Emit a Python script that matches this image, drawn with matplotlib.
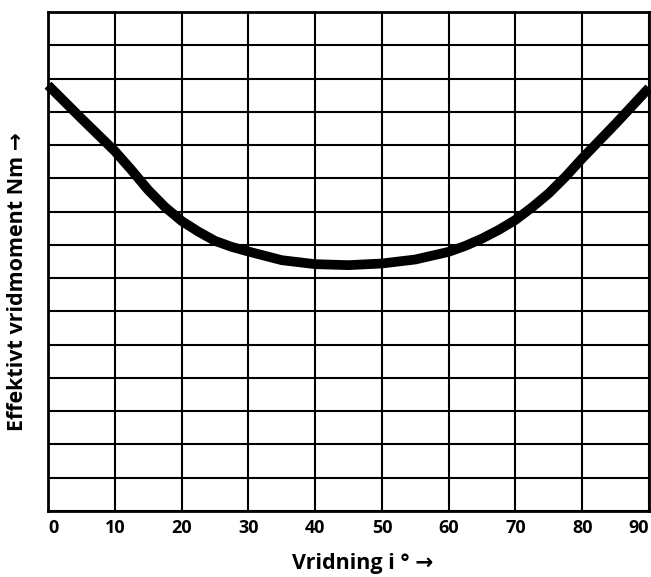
import matplotlib
matplotlib.use("Agg")
import matplotlib.pyplot as plt
import numpy as np

# Data
angle_deg = [0, 5, 10, 12.5, 15, 17.5, 20, 22.5, 25, 27.5, 30, 35, 40, 45, 50, 55, 60,
             62.5, 65, 67.5, 70, 72.5, 75, 77.5, 80, 85, 90]
torque = [12.8, 11.8, 10.82, 10.25, 9.65, 9.14, 8.72, 8.40, 8.12, 7.94, 7.8, 7.54, 7.42, 7.39,
          7.44, 7.56, 7.79, 7.97, 8.19, 8.45, 8.75, 9.13, 9.55, 10.05, 10.6, 11.64, 12.72]
x_ticks = [0, 10, 20, 30, 40, 50, 60, 70, 80, 90]
x_label = "Vridning i ° →"
y_label = "Effektivt vridmoment Nm →"

plt.rcParams['font.family'] = ['Open Sans', 'DejaVu Sans']

fig = plt.figure(figsize=(6.51, 5.77), dpi=100)
ax = fig.add_axes([48/651, 66/577, 601/651, 499/577])

ax.set_xlim(0, 90)
ax.set_ylim(0, 15)
ax.set_xticks(x_ticks)
labels = ax.set_xticklabels([str(t) for t in x_ticks], fontsize=13, fontweight='bold')
labels[0].set_ha('left')
labels[-1].set_ha('right')
ax.set_yticks(np.arange(0, 16, 1))
ax.set_yticklabels([])
ax.tick_params(axis='both', length=0, pad=6)
ax.grid(True, color='black', linewidth=1.5)
ax.set_axisbelow(True)
for s in ax.spines.values():
    s.set_linewidth(2)
    s.set_color('black')

ax.plot(angle_deg, torque, color='black', linewidth=7, solid_capstyle='butt',
        solid_joinstyle='round', clip_on=False)

fig.text(363/651, 1 - 563/577, x_label, fontsize=15.5, fontweight='bold',
         ha='center', va='center')
fig.text(18/651, 1 - 282/577, y_label, fontsize=15.5, fontweight='bold',
         ha='center', va='center', rotation=90)

fig.savefig("out.png", dpi=100)
